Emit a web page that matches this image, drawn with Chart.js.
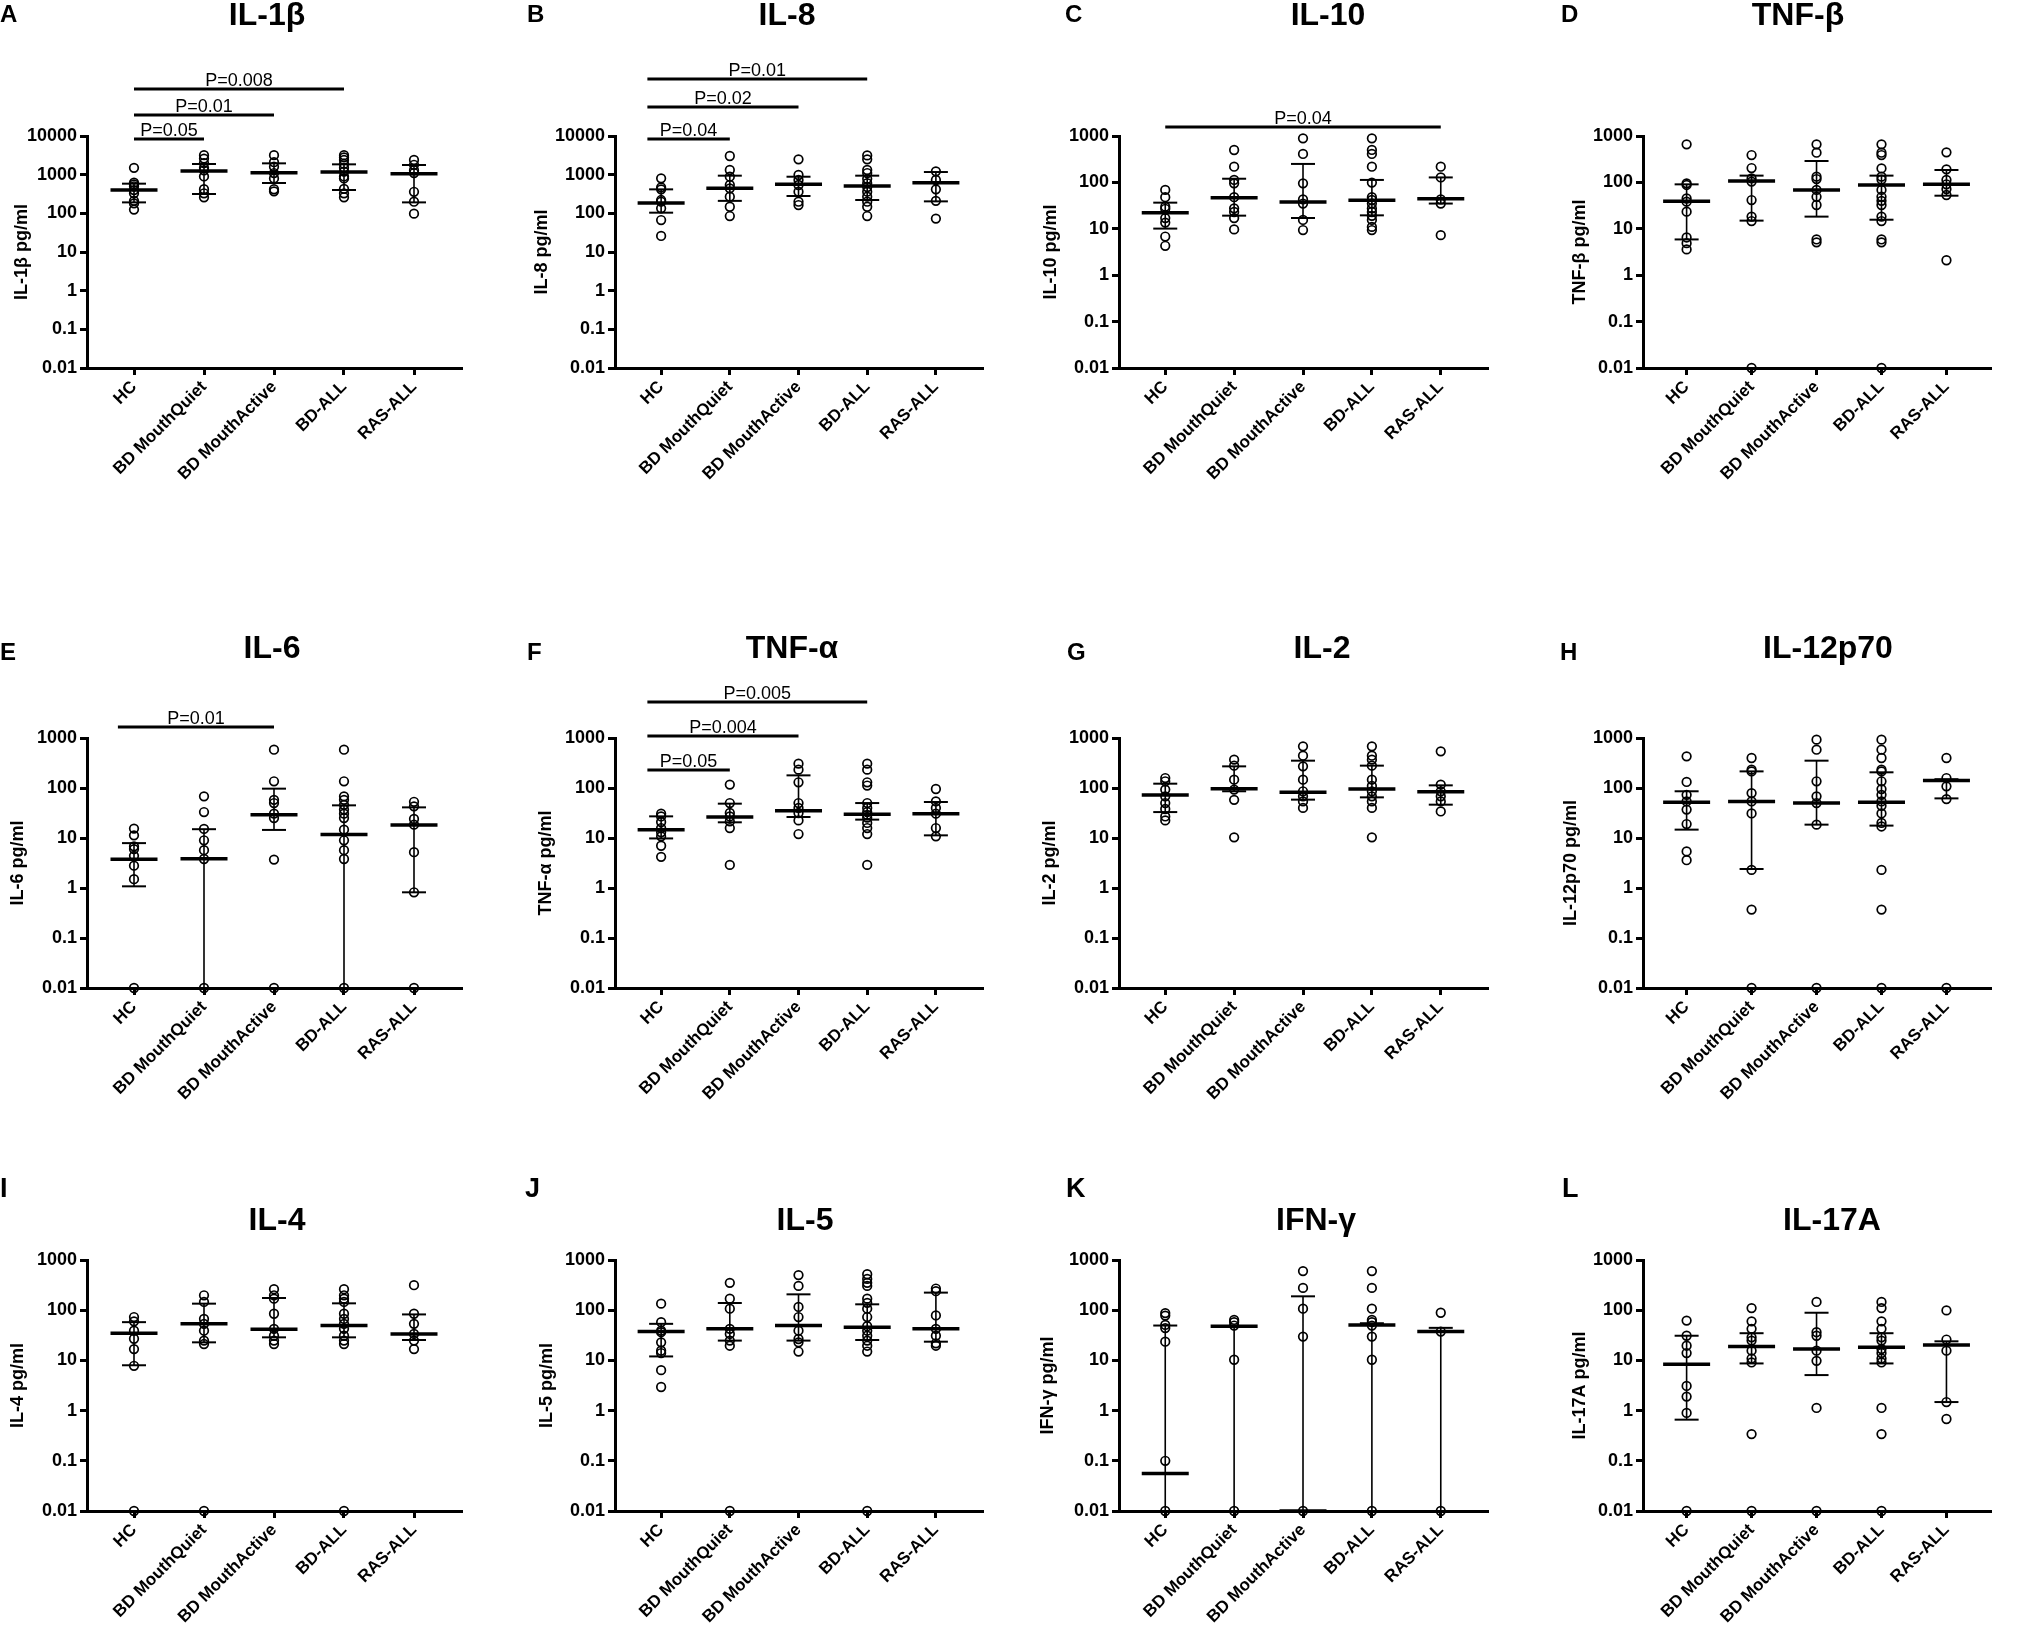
<!DOCTYPE html>
<html><head><meta charset="utf-8">
<script src="https://cdn.jsdelivr.net/npm/chart.js@4.4.0/dist/chart.umd.min.js"></script>
<style>
html,body{margin:0;padding:0;background:#fff;width:2018px;height:1636px;overflow:hidden;position:relative}
canvas{position:absolute;display:block}
</style></head><body>
<script>
// ---------- DATA ----------
const categories = ['HC', 'BD MouthQuiet', 'BD MouthActive', 'BD-ALL', 'RAS-ALL'];
const yTickLabelsWide = ['0.01', '0.1', '1', '10', '100', '1000', '10000'];
const yTickLabels = ['0.01', '0.1', '1', '10', '100', '1000'];

const panelLetters = ['A','B','C','D','E','F','G','H','I','J','K','L'];
const panelTitles = ['IL-1β','IL-8','IL-10','TNF-β','IL-6','TNF-α','IL-2','IL-12p70','IL-4','IL-5','IFN-γ','IL-17A'];
const yTitles = ['IL-1β pg/ml','IL-8 pg/ml','IL-10 pg/ml','TNF-β pg/ml','IL-6 pg/ml','TNF-α pg/ml','IL-2 pg/ml','IL-12p70 pg/ml','IL-4 pg/ml','IL-5 pg/ml','IFN-γ pg/ml','IL-17A pg/ml'];

// A IL-1β
const il1bPoints = [[1500,620,560,500,400,330,210,180,125],[3200,2600,2000,1500,1300,900,420,330,260],[3200,2100,1600,1100,800,420,370],[3200,2800,2400,1900,1500,1200,900,800,430,330,260],[2400,1800,1300,1100,360,200,98]];
const il1bMedian = [401,1245,1128,1170,1062];
const il1bUpper = [585,1890,1963,1850,1780];
const il1bLower = [192,316,608,401,192];
const il1bP = [[0,1,8360,'P=0.05'],[0,2,34900,'P=0.01'],[0,3,164000,'P=0.008']];
// B IL-8
const il8Points = [[803,470,417,221,200,135,67,26],[3040,1320,885,540,443,270,148,85],[2490,980,728,540,363,200,164],[3150,2490,1320,1100,780,600,480,363,270,200,148,85],[1220,728,417,210,73]];
const il8Median = [185,443,563,509,621];
const il8Upper = [417,942,885,942,1170];
const il8Lower = [104,210,281,221,204];
const il8P = [[-0.2,1,8360,'P=0.04'],[-0.2,2,56200,'P=0.02'],[-0.2,3,298000,'P=0.01']];
// C IL-10
const il10Points = [[69,48,30,27,17,13.6,6.8,4.3],[499,218,113,95.5,48,27.6,23,17,9.7],[890,410,95.5,43,35,15.5,9.4],[890,500,410,218,99,48,42,35,27.5,23,19,15.5,11,9.4],[218,128,43,35,7.3]];
const il10Median = [22.3,46.9,37.8,41,44.6];
const il10Upper = [36.6,120,250,113,128];
const il10Lower = [10.1,19.2,17.1,19.5,35];
const il10P = [[0,4,1563,'P=0.04']];
// D TNF-β
const tnfbPoints = [[661,95.5,88,45,38.5,23.4,6.5,4.9,3.6],[389,204,122,104,41.7,18.3,14.7,0.01],[661,437,133,118,69,49,32.6,5.9,5.1],[661,437,389,200,133,115,69,49,40,32.6,18.3,14.7,5.9,5.1,0.01],[444,191,113,91,72,53.5,2.1]];
const tnfbMedian = [39,107,69,88,91];
const tnfbUpper = [90.8,140,289,140,185];
const tnfbLower = [5.9,15,18.3,15.7,51.7];
const tnfbP = [];
// E IL-6
const il6Points = [[15.4,11.3,6.8,6.0,4.4,2.8,1.5,0.01],[68,33,15.2,9,5.7,3.8,0.01],[584,136,58,50,30.7,25,3.7,0.01],[584,136,68,58,46,37,30.7,25,14.7,9,5.7,3.8,0.01],[53,43,24,18.5,5.2,0.82,0.01]];
const il6Median = [3.74,3.86,29.3,11.7,18.2];
const il6Upper = [7.9,15,97,45,41];
const il6Lower = [1.08,0.01,14.5,0.01,0.82];
const il6P = [[-0.23,2,1660,'P=0.01']];
// F TNF-α
const tnfaPoints = [[30.7,27,20.9,15.8,13,10.8,7.0,4.2],[117,50,31.6,27,21.5,15.8,2.9],[307,233,130,50,40,31.6,22.5,12],[307,233,130,112,50,40,33,29,25.5,20,15.8,12,2.9],[95.5,54,40,30.7,15.8,10.8]];
const tnfaMedian = [14.7,26.3,35.2,29.7,30.7];
const tnfaUpper = [27.1,48.6,179,50,52.5];
const tnfaLower = [9.8,20.6,26.3,23.3,11.3];
const tnfaP = [[-0.2,1,229,'P=0.05'],[-0.2,2,1096,'P=0.004'],[-0.2,3,5250,'P=0.005']];
// G IL-2
const il2Points = [[158,136,93,68,50,38,27,22.5],[369,280,147,93,58,10.3],[681,443,271,147,86,68,54,40],[681,443,369,280,147,110,86,68,54,40,10.3],[541,117,86,68,54,34]];
const il2Median = [72.4,97,82,95.5,84.5];
const il2Upper = [122,271,352,280,113];
const il2Lower = [33,86,58.5,65,46.4];
const il2P = [];
// H IL-12p70
const il12Points = [[430,132,73,54,37,19,5.4,3.6],[398,233,215,79,54,31,2.3,0.37,0.01],[926,584,136,68,50,18.5,0.01],[926,584,398,233,215,136,95,73,54,44,31,20,17,2.3,0.37,0.01],[398,158,108,60,0.01]];
const il12Median = [51.6,54,50,51.6,142];
const il12Upper = [86,215,352,206,150];
const il12Lower = [14.7,2.4,18.5,17.7,62];
const il12P = [];
// I IL-4
const il4Points = [[73,60,39,27,16.8,7.8,0.01],[198,146,67,53.5,39,24.8,21.2,0.01],[262,198,170,85,42.5,31,24.8,21.2],[262,198,170,146,85,67,53.5,42.5,31,24.8,21.2,0.01],[315,85,53.5,33.6,24.8,16.8]];
const il4Median = [34.8,53.5,41.8,49.5,33.6];
const il4Upper = [57.8,135,175,137,82.4];
const il4Lower = [8.0,22.9,28.8,28.8,25.5];
const il4P = [];
// J IL-5
const il5Points = [[135,57.8,39,36.4,22.9,15.6,14,6.4,2.95],[351,170,107,42.5,33.6,24.8,19.6,0.01],[500,305,116,73,39,26.7,22.9,15],[520,420,351,305,170,140,107,73,48,39,31,24.8,19.6,15,0.01],[270,239,78.7,42.5,31,21.9,19.6]];
const il5Median = [37.5,42.5,49.5,45.8,42.5];
const il5Upper = [53.5,139,207,131,224];
const il5Lower = [12,24.8,24.8,25.5,23.6];
const il5P = [];
// K IFN-γ
const ifngPoints = [[87.6,78,51,44,23.6,0.1,0.01],[64,58,49.5,10.3,0.01],[601,278,107,29.8,0.01],[601,278,107,64,58,49.5,29.8,10.3,0.01],[89,37.6,0.01]];
const ifngMedian = [0.056,48,0.01,51,37.6];
const ifngUpper = [49.5,48,189,55,44.5];
const ifngLower = [0.01,0.01,0.01,0.01,0.01];
const ifngP = [];
// L IL-17A
const il17Points = [[62,31,19.6,14,3.1,1.9,0.9,0.01],[110,60,42.5,28.8,24.8,15.6,10.9,9.1,0.34,0.01],[146,36.4,31,15.6,9.8,1.13,0.01],[146,110,60,42.5,28.8,24.8,16.8,14,10.9,9.1,1.13,0.34,0.01],[99,26,15.6,1.48,0.68]];
const il17Median = [8.4,19,16.8,18.2,20.3];
const il17Upper = [31,34.8,89,34.8,24];
const il17Lower = [0.66,8.7,5.1,8.7,1.48];
const il17P = [];

// ---------- LAYOUT ----------
const FONT = "'Liberation Sans', Arial, Helvetica, sans-serif";
Chart.defaults.font.family = FONT;
Chart.defaults.font.size = 18;
Chart.defaults.font.weight = 'bold';
Chart.defaults.color = '#000';

const colCanvasLeft = [0, 505, 1010, 1515];
const colCanvasWidth = [505, 505, 505, 503];
const rowCanvasTop = [0, 590, 1150];
const rowCanvasHeight = [590, 560, 486];
const colAxisLeft = [87, 615, 1119, 1643];
const axisWidth = 375;
const firstCatOffset = 47, catStep = 70;
const rowAxisTop = [136, 738, 1260];
const rowAxisBottom = [368, 988, 1511];
const titleXs = [[267,787,1328,1798],[272,792,1322,1828],[277,805,1316,1832]];
const titleBase = [25, 658, 1230];
const letterXs = [[0,527,1065,1561],[0,527,1067,1560],[0,525,1066,1562]];
const letterBase = [22, 660, 1197];
const yTitleXs = [[22,542,1051,1580],[18,546,1050,1571],[18,547,1048,1580]];

const panelSeries = [
  [il1bPoints, il1bMedian, il1bUpper, il1bLower, il1bP, yTickLabelsWide],
  [il8Points, il8Median, il8Upper, il8Lower, il8P, yTickLabelsWide],
  [il10Points, il10Median, il10Upper, il10Lower, il10P, yTickLabels],
  [tnfbPoints, tnfbMedian, tnfbUpper, tnfbLower, tnfbP, yTickLabels],
  [il6Points, il6Median, il6Upper, il6Lower, il6P, yTickLabels],
  [tnfaPoints, tnfaMedian, tnfaUpper, tnfaLower, tnfaP, yTickLabels],
  [il2Points, il2Median, il2Upper, il2Lower, il2P, yTickLabels],
  [il12Points, il12Median, il12Upper, il12Lower, il12P, yTickLabels],
  [il4Points, il4Median, il4Upper, il4Lower, il4P, yTickLabels],
  [il5Points, il5Median, il5Upper, il5Lower, il5P, yTickLabels],
  [ifngPoints, ifngMedian, ifngUpper, ifngLower, ifngP, yTickLabels],
  [il17Points, il17Median, il17Upper, il17Lower, il17P, yTickLabels]
];

const decoPlugin = {
  id: 'deco',
  afterDraw(chart, args, o) {
    const ctx = chart.ctx, xs = chart.scales.x, ys = chart.scales.y;
    ctx.save();
    ctx.fillStyle = '#000'; ctx.strokeStyle = '#000';
    ctx.textBaseline = 'alphabetic';
    ctx.font = 'bold ' + o.letterSize + 'px ' + FONT;
    ctx.textAlign = 'left';
    ctx.fillText(o.letter, o.letterX, o.letterY);
    ctx.font = 'bold ' + o.titleSize + 'px ' + FONT;
    ctx.textAlign = 'center';
    ctx.fillText(o.title, o.titleX, o.titleY);
    ctx.font = 'normal 18px ' + FONT;
    ctx.lineWidth = 3;
    for (const [a, b, level, label] of o.pbars) {
      const x1 = xs.getPixelForValue(a), x2 = xs.getPixelForValue(b), y = ys.getPixelForValue(level);
      ctx.beginPath(); ctx.moveTo(x1, y); ctx.lineTo(x2, y); ctx.stroke();
      ctx.fillText(label, (x1 + x2) / 2, y - 3);
    }
    ctx.restore();
  }
};

function makePanel(idx) {
  const r = Math.floor(idx / 4), c = idx % 4;
  const L = colCanvasLeft[c], T = rowCanvasTop[r], W = colCanvasWidth[c], H = rowCanvasHeight[r];
  const axL = colAxisLeft[c], axR = axL + axisWidth, axT = rowAxisTop[r], axB = rowAxisBottom[r];
  const [pts, med, hi, lo, pbars, tickLabels] = panelSeries[idx];
  const tickVals = tickLabels.map(parseFloat);
  const canvas = document.createElement('canvas');
  canvas.width = W; canvas.height = H;
  canvas.style.left = L + 'px'; canvas.style.top = T + 'px';
  canvas.style.width = W + 'px'; canvas.style.height = H + 'px';
  document.body.appendChild(canvas);

  const pointData = pts.flatMap((arr, i) => arr.map(v => ({x: i, y: v})));
  const whiskerData = lo.flatMap((l, i) => [{x: i, y: l}, {x: i, y: hi[i]}, {x: i, y: null}]);
  const capData = lo.map((l, i) => ({x: i, y: l})).concat(hi.map((h, i) => ({x: i, y: h})));
  const medData = med.map((m, i) => ({x: i, y: m}));

  const axisGrid = {display: true, drawOnChartArea: false, drawTicks: true, tickLength: 7, tickWidth: 3, tickColor: '#000'};
  const axisBorder = {display: true, color: '#000', width: 3};

  new Chart(canvas, {
    type: 'scatter',
    data: {
      datasets: [
        {data: pointData, pointStyle: 'circle', pointRadius: 4.3, pointBorderWidth: 1.7, pointBorderColor: '#000', pointBackgroundColor: 'rgba(0,0,0,0)', clip: false},
        {data: medData, pointStyle: 'line', pointRadius: 23.5, pointBorderWidth: 3.5, pointBorderColor: '#000', clip: false},
        {data: capData, pointStyle: 'line', pointRadius: 12, pointBorderWidth: 2, pointBorderColor: '#000', clip: false},
        {data: whiskerData, showLine: true, spanGaps: false, borderColor: '#000', borderWidth: 1.6, pointRadius: 0, clip: false}
      ]
    },
    options: {
      responsive: false, animation: false, devicePixelRatio: 1, events: [],
      layout: {padding: {left: 0, top: axT - T, right: L + W - axR, bottom: 0}},
      plugins: {
        legend: {display: false}, tooltip: {enabled: false}, title: {display: false},
        deco: {
          letter: panelLetters[idx], letterX: letterXs[r][c] - L, letterY: letterBase[r] - T, letterSize: r === 2 ? 27 : 24,
          title: panelTitles[idx], titleX: titleXs[r][c] - L, titleY: titleBase[r] - T, titleSize: 32,
          pbars: pbars
        }
      },
      scales: {
        x: {
          type: 'linear', min: -firstCatOffset / catStep, max: (axisWidth - firstCatOffset) / catStep,
          afterBuildTicks: s => { s.ticks = categories.map((_, i) => ({value: i})); },
          afterFit: s => { s.height = T + H - axB; },
          grid: axisGrid, border: axisBorder,
          ticks: {autoSkip: false, maxRotation: 45, minRotation: 45, padding: 2, color: '#000',
                  font: {family: FONT, weight: 'bold', size: 17},
                  callback: v => categories[v]}
        },
        y: {
          type: 'logarithmic', min: tickVals[0], max: tickVals[tickVals.length - 1],
          afterBuildTicks: s => { s.ticks = tickVals.map(v => ({value: v})); },
          afterFit: s => { s.width = axL - L; },
          grid: axisGrid, border: axisBorder,
          ticks: {autoSkip: false, padding: 3, color: '#000',
                  font: {family: FONT, weight: 'bold', size: 18},
                  callback: v => tickLabels[tickVals.indexOf(v)]},
          title: {display: true, text: yTitles[idx], color: '#000',
                  font: {family: FONT, weight: 'bold', size: 18},
                  padding: {top: yTitleXs[r][c] - L - 10.8, bottom: 0}}
        }
      }
    },
    plugins: [decoPlugin]
  });
}

for (let i = 0; i < 12; i++) makePanel(i);
</script>
</body></html>
